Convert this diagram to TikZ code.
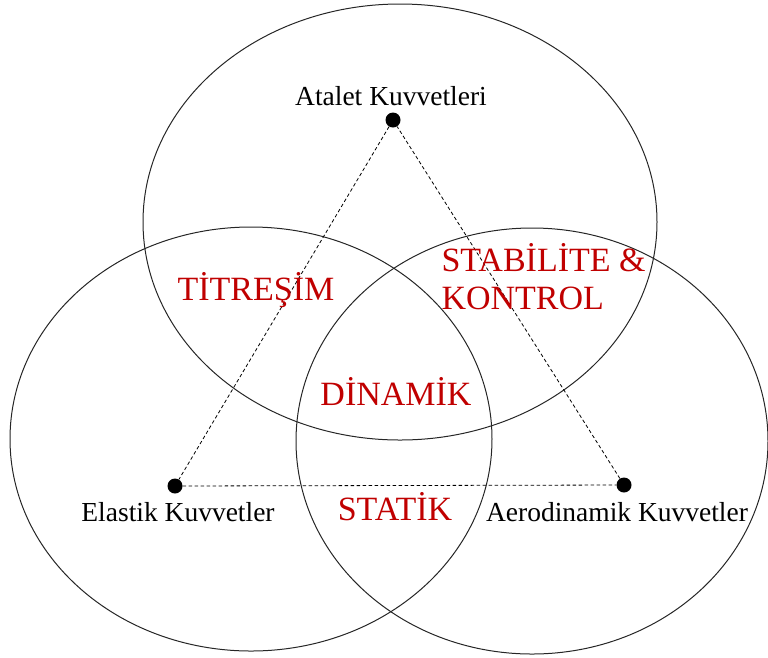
\documentclass[tikz,border=0pt]{standalone}
\usepackage{fontspec}
\setmainfont{Liberation Serif}
\usetikzlibrary{positioning}
\definecolor{areared}{HTML}{C00000}

\begin{document}
\begin{tikzpicture}[x=1pt,y=-1pt,
   ring/.style={draw=black!85,line width=1pt},
   force/.style={font=\fontsize{27.5}{32}\selectfont},
   area/.style={text=areared,font=\fontsize{34}{38}\selectfont,align=left},
   pt/.style={circle,fill=black,inner sep=0pt,minimum size=15pt},
   link/.style={draw,line width=0.8pt,dash pattern=on 3.5pt off 2.5pt}]
  \useasboundingbox (0,0) rectangle (768,657);
  % the three circles
  \draw[ring] (400,222) ellipse [x radius=257pt,y radius=218pt];
  \draw[ring] (251,439) ellipse [x radius=241pt,y radius=212pt];
  \draw[ring] (532,441) ellipse [x radius=236pt,y radius=213pt];
  % force points
  \node[pt] (inert) at (393,120) {};
  \node[pt] (elast) at (175,486) {};
  \node[pt] (aero) at (624,485) {};
  \draw[link] (inert) -- (elast) -- (aero) -- (inert);
  \node[force] (tinert) at (391,96) {Atalet Kuvvetleri};
  \node[force] (telast) at (178,512) {Elastik Kuvvetler};
  \node[force] (taero) at (617,512) {Aerodinamik Kuvvetler};
  % overlap areas
  \node[area] (vib) at (256,290) {TİTREŞİM};
  \node[area,anchor=west] (stab) at (438,277) {STABİLİTE \&\\KONTROL};
  \node[area] (dyn) at (396,391) {DİNAMİK};
  \node[area] (stat) at (395,507) {STATİK};
\end{tikzpicture}
\end{document}
